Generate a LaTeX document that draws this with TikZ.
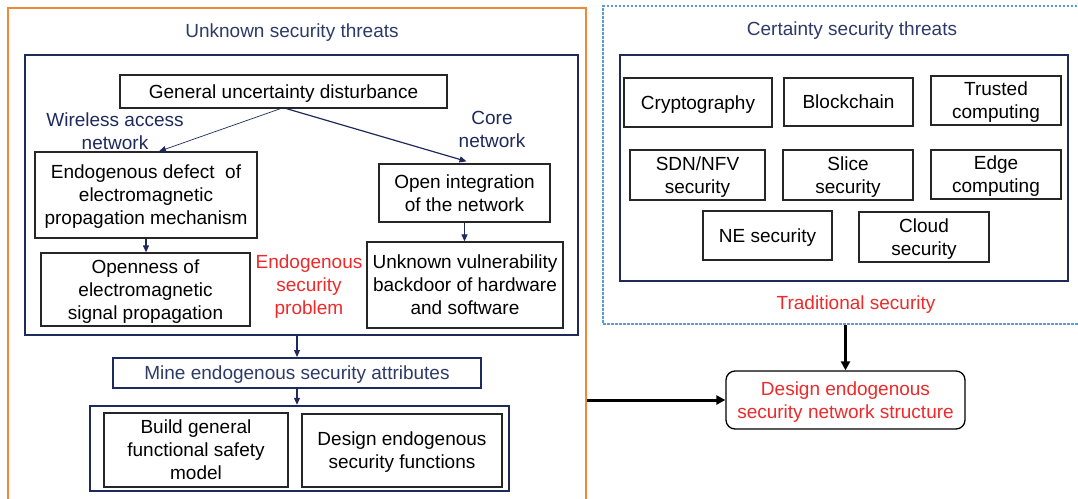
\documentclass[tikz,border=0pt]{standalone}
\usepackage{fontspec}
\setmainfont{Liberation Sans}
\usetikzlibrary{arrows.meta}
\definecolor{navy}{HTML}{1F2A5C}
\definecolor{ttl}{HTML}{2E3A68}
\definecolor{myred}{HTML}{EE2A2A}
\definecolor{myorange}{HTML}{F0883A}
\definecolor{myblue}{HTML}{5B9BD5}
\begin{document}
\begin{tikzpicture}[x=1pt,y=-1pt,
  fnt/.style={font=\fontsize{19}{23}\selectfont},
  box/.style={draw=black!85, line width=1.3pt, align=center, inner sep=0pt, text depth=0pt, fnt},
  cont/.style={draw=navy, line width=2.4pt, inner sep=0pt},
  lbl/.style={align=center, inner sep=0pt, text depth=0pt, fnt},
  thin/.style={draw=navy, line width=1.2pt, -{Triangle[length=7pt,width=6pt]}},
  thick/.style={draw=black, line width=3pt, -{Triangle[length=9pt,width=9pt]}}]
\useasboundingbox (0,0) rectangle (1078,498);
\clip (0,0) rectangle (1078,498);
\fill[white] (0,0) rectangle (1078,498);
% left part
\node[draw=myorange, line width=1.5pt, minimum width=578pt, minimum height=512pt, inner sep=0pt] (orange) at (297,264) {};
\node[lbl, text=ttl] (t1) at (292,31) {Unknown security threats};
\node[cont, minimum width=553pt, minimum height=280pt] (inner) at (301.5,195) {};
\node[box, minimum width=327pt, minimum height=33pt] (gen) at (283.5,91.5) {General uncertainty disturbance};
\node[lbl, text=navy] (wl) at (115,131.5) {Wireless access\\network};
\node[lbl, text=navy] (core) at (492,129.5) {Core\\network};
\node[box, minimum width=222pt, minimum height=86pt] (def) at (146,195) {Endogenous defect\ \ of\\electromagnetic\\propagation mechanism};
\node[box, minimum width=171pt, minimum height=58pt] (open) at (464.5,193) {Open integration\\of the network};
\node[box, minimum width=209pt, minimum height=73pt] (openness) at (145.5,289.5) {Openness of\\electromagnetic\\signal propagation};
\node[box, minimum width=196pt, minimum height=86pt] (unk) at (465,285) {Unknown vulnerability\\backdoor of hardware\\and software};
\node[lbl, text=myred] (endo) at (309,285) {Endogenous\\security\\problem};
\node[draw=navy, line width=2pt, minimum width=368pt, minimum height=30pt, inner sep=0pt, text depth=0pt, fnt, text=ttl] (mine) at (297,373) {Mine endogenous security attributes};
\node[cont, minimum width=419pt, minimum height=85pt] (bot) at (299.5,448.5) {};
\node[box, minimum width=184pt, minimum height=74pt] (build) at (196,450) {Build general\\functional safety\\model};
\node[box, minimum width=200pt, minimum height=73pt] (desfn) at (402,450.5) {Design endogenous\\security functions};
% right part
\node[draw=myblue, line width=1.2pt, dash pattern=on 2.5pt off 1.5pt, minimum width=492pt, minimum height=318pt, inner sep=0pt] (dash) at (849,165) {};
\node[lbl, text=ttl] (t2) at (852,29) {Certainty security threats};
\node[cont, minimum width=448pt, minimum height=226pt] (inner2) at (844,168) {};
\node[box, minimum width=148pt, minimum height=49pt] (crypto) at (698,102.5) {Cryptography};
\node[box, minimum width=129pt, minimum height=48pt] (block) at (848.5,102) {Blockchain};
\node[box, minimum width=130pt, minimum height=49pt] (trusted) at (996,100.5) {Trusted\\computing};
\node[box, minimum width=135pt, minimum height=50pt] (sdn) at (697.5,175) {SDN/NFV\\security};
\node[box, minimum width=130pt, minimum height=50pt] (slice) at (848,175) {Slice\\security};
\node[box, minimum width=130pt, minimum height=49pt] (edge) at (996,174.5) {Edge\\computing};
\node[box, minimum width=129pt, minimum height=49pt] (ne) at (767.5,235.5) {NE security};
\node[box, minimum width=130pt, minimum height=50pt] (cloud) at (924,237) {Cloud\\security};
\node[lbl, text=myred] (trad) at (856,303) {Traditional security};
\node[box, draw=black, rounded corners=9pt, minimum width=239pt, minimum height=58pt, text=myred] (design) at (845.5,400) {Design endogenous\\security network structure};
% connectors
\draw[thin, line width=0.7pt] ([xshift=-3pt]gen.south) -- ([xshift=13pt]def.north);
\draw[thin] ([xshift=3pt]gen.south) -- ([xshift=2pt,yshift=2pt]open.north);
\draw[thin] (def.south) -- (def.south |- openness.north);
\draw[thin] (open.south) -- (open.south |- unk.north);
\draw[thin] (mine.north |- inner.south) -- (mine.north);
\draw[thin] (mine.south) -- (mine.south |- bot.north);
\draw[thick] (design.north |- dash.south) -- (design.north);
\draw[thick] (orange.east |- design.west) -- (design.west);
\end{tikzpicture}
\end{document}
